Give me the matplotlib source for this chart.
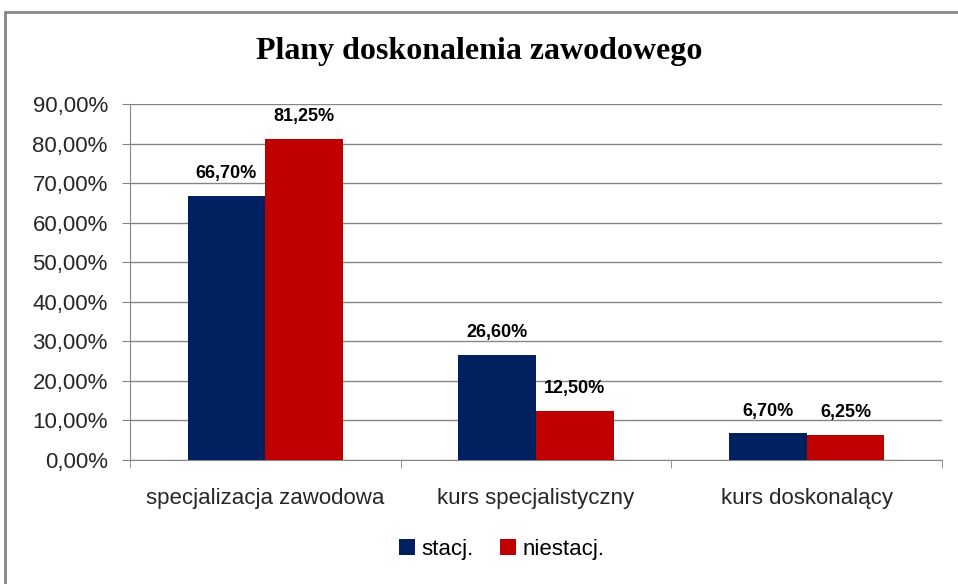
import matplotlib.pyplot as plt
import numpy as np
from matplotlib.patches import Rectangle
from matplotlib.ticker import FuncFormatter, FixedLocator

categories = ['specjalizacja zawodowa', 'kurs specjalistyczny', 'kurs doskonalący']
stacj = [66.70, 26.60, 6.70]
niestacj = [81.25, 12.50, 6.25]
series_names = ['stacj.', 'niestacj.']
colors = ['#002060', '#C00000']

fig = plt.figure(figsize=(9.58, 5.84), dpi=100)
fig.patches.append(Rectangle((5 / 958, -0.1), 1.1, 1 - 12 / 584 + 0.1, transform=fig.transFigure,
                             fill=False, edgecolor='#878787', linewidth=2))
ax = fig.add_axes([130 / 958, 1 - 460 / 584, 812 / 958, 356 / 584])

x = np.arange(len(categories))
w = 0.287
b1 = ax.bar(x - w / 2, stacj, w, color=colors[0], label=series_names[0], zorder=3)
b2 = ax.bar(x + w / 2, niestacj, w, color=colors[1], label=series_names[1], zorder=3)

fmt = lambda v: f'{v:.2f}%'.replace('.', ',')
for bars, vals in [(b1, stacj), (b2, niestacj)]:
    for r, v in zip(bars, vals):
        ax.annotate(fmt(v), (r.get_x() + r.get_width() / 2, v), xytext=(0, 10),
                    textcoords='offset points', ha='center', va='bottom',
                    fontsize=13, fontweight='bold', family='Liberation Sans')

ax.set_xlim(-0.5, 2.5)
ax.set_ylim(0, 90)
ax.set_yticks(np.arange(0, 91, 10))
ax.yaxis.set_major_formatter(FuncFormatter(lambda v, p: fmt(v)))
ax.yaxis.grid(True, color='#868686', linewidth=1, zorder=0)
ax.set_xticks(x)
ax.set_xticklabels(categories)
ax.xaxis.set_minor_locator(FixedLocator([-0.5, 0.5, 1.5, 2.5]))
ax.tick_params(axis='x', which='major', length=0, pad=20, labelsize=16)
ax.tick_params(axis='x', which='minor', length=6, color='#868686')
ax.tick_params(axis='y', length=6, color='#868686', labelsize=16, pad=10)
for lab in ax.get_xticklabels() + ax.get_yticklabels():
    lab.set_family('Liberation Sans')
    lab.set_color('#262626')
for s in ['top', 'right']:
    ax.spines[s].set_visible(False)
ax.spines['left'].set_color('#868686')
ax.spines['bottom'].set_color('#868686')

fig.text(0.5, 1 - 52 / 584, 'Plany doskonalenia zawodowego', ha='center', va='center',
         fontsize=23, fontweight='bold', family='Liberation Serif')

fig.legend(loc='center', bbox_to_anchor=(502 / 958, 1 - 549 / 584), ncol=2, frameon=False,
           prop={'family': 'Liberation Sans', 'size': 16}, handlelength=0.7, handleheight=0.7,
           handletextpad=0.3, columnspacing=1.2)

fig.savefig('out.png', dpi=100)
